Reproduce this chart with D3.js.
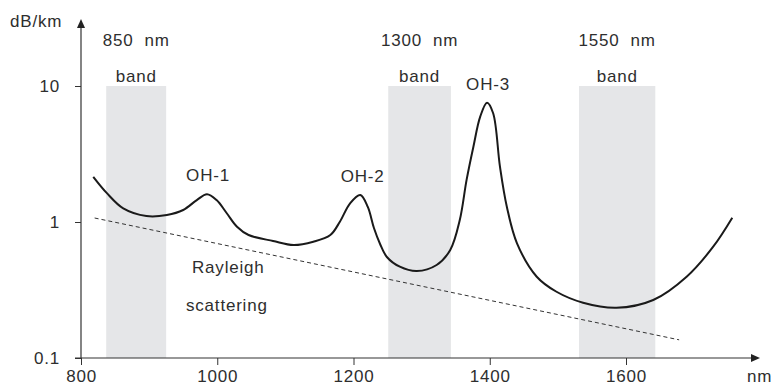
<!DOCTYPE html>
<html>
<head>
<meta charset="utf-8">
<script src="https://cdn.jsdelivr.net/npm/d3@7"></script>
<style>
  body { margin: 0; background: #fff; }
  text { font-family: "Liberation Sans", Arial, sans-serif; fill: #2e2e2e; }
</style>
</head>
<body>
<div id="chart"></div>
<script>
// データ------------------------------------------------------------------------------
const xTicks = [800, 1000, 1200, 1400, 1600];
const yTicks = [0.1, 1, 10];
const yTickLabels = ['0.1', '1', '10'];
// 透過帯域 [開始nm, 終了nm, 上段ラベル]
const bandNames = ['850  nm', '1300  nm', '1550  nm'];
const bandStart = [837, 1251, 1531];
const bandEnd = [925, 1343, 1643];
// 損失曲線 (nm, dB/km)
const lossNm = [818, 838, 862, 896, 926, 950, 970, 985, 999, 1014, 1029, 1046, 1082, 1112, 1141,
  1166, 1180, 1195, 1210, 1221, 1230, 1239, 1249, 1268, 1293, 1322, 1342, 1356, 1366, 1376, 1386,
  1396, 1405, 1415, 1425, 1440, 1469, 1498, 1537, 1586, 1640, 1689, 1728, 1756];
const lossDb = [2.15, 1.63, 1.26, 1.107, 1.126, 1.225, 1.45, 1.60, 1.45, 1.16, 0.923, 0.802, 0.725, 0.677, 0.716,
  0.802, 1.005, 1.373, 1.58, 1.29, 0.903, 0.689, 0.553, 0.469, 0.436, 0.483, 0.623, 1.034, 2.04, 3.58, 5.95,
  7.54, 6.3, 2.55, 1.30, 0.697, 0.396, 0.307, 0.255, 0.234, 0.267, 0.396, 0.658, 1.075];
// レイリー散乱 (破線)
const rayleighNm = [820, 1678];
const rayleighDb = [1.07, 0.136];
// ピークラベル
const peakNames = ['OH-1', 'OH-2', 'OH-3'];
const peakNm = [985, 1212, 1396];
const peakDb = [1.60, 1.58, 7.54];

// SVG領域------------------------------------------------------------------------------
const width = 774, height = 387;
const svg = d3.select('#chart').append('svg')
  .attr('width', width)
  .attr('height', height);

const xScale = d3.scaleLinear().domain([800, 1600]).range([81, 626]);
const yScale = d3.scaleLog().domain([0.1, 10]).range([358, 86]);
const fontSize = '17px', ls = '0.8px';

// 帯域----------------------------------------------------------------------------------
bandStart.forEach((s, i) => {
  const x0 = xScale(s), x1 = xScale(bandEnd[i]);
  svg.append('rect')
    .attr('x', x0).attr('y', yScale(10))
    .attr('width', x1 - x0).attr('height', yScale(0.1) - yScale(10))
    .attr('fill', '#e5e6e8');
  svg.append('text')
    .attr('x', (x0 + x1) / 2).attr('y', 46)
    .attr('text-anchor', 'middle')
    .attr('font-size', fontSize).attr('letter-spacing', ls)
    .style('white-space', 'pre')
    .text(bandNames[i]);
  svg.append('text')
    .attr('x', (x0 + x1) / 2).attr('y', 82)
    .attr('text-anchor', 'middle')
    .attr('font-size', fontSize).attr('letter-spacing', ls)
    .text('band');
});

// 軸---------------------------------------------------------------------------------------
const axisx = d3.axisBottom(xScale).tickValues(xTicks).tickSize(7).tickPadding(5)
  .tickFormat(d3.format('d'));
svg.append('g')
  .attr('transform', 'translate(0,' + yScale(0.1) + ')')
  .call(axisx);
const axisy = d3.axisLeft(yScale).tickValues(yTicks).tickSize(6).tickPadding(15)
  .tickFormat((d, i) => yTickLabels[i]);
svg.append('g')
  .attr('transform', 'translate(' + xScale(800) + ',0)')
  .call(axisy);
svg.selectAll('.domain').remove();
svg.selectAll('.tick line').attr('stroke', '#333').attr('stroke-width', 1);
svg.selectAll('.tick text')
  .attr('font-size', fontSize).attr('letter-spacing', ls)
  .attr('font-family', '"Liberation Sans", Arial, sans-serif')
  .attr('fill', '#2e2e2e');

// 軸線と矢印
const x0 = xScale(800), yB = yScale(0.1);
svg.append('line').attr('x1', x0 - 6).attr('x2', 751).attr('y1', yB).attr('y2', yB)
  .attr('stroke', '#333').attr('stroke-width', 1.2);
svg.append('path').attr('d', `M751,${yB - 4}L760,${yB}L751,${yB + 4}Z`).attr('fill', '#222');
svg.append('line').attr('x1', x0).attr('x2', x0).attr('y1', yB).attr('y2', 27)
  .attr('stroke', '#333').attr('stroke-width', 1.2);
svg.append('path').attr('d', `M${x0 - 4},28L${x0},19L${x0 + 4},28Z`).attr('fill', '#222');

svg.append('text').attr('x', 10).attr('y', 27)
  .attr('font-size', fontSize).attr('letter-spacing', ls).text('dB/km');
svg.append('text').attr('x', 747).attr('y', 382)
  .attr('font-size', fontSize).attr('letter-spacing', ls).text('nm');

// レイリー散乱------------------------------------------------------------------------
svg.append('path')
  .datum(rayleighNm.map((d, i) => [d, rayleighDb[i]]))
  .attr('d', d3.line().x(d => xScale(d[0])).y(d => yScale(d[1])))
  .attr('fill', 'none')
  .attr('stroke', '#333')
  .attr('stroke-width', 1)
  .attr('stroke-dasharray', '4,3');
svg.append('text').attr('x', 192).attr('y', 273)
  .attr('font-size', fontSize).attr('letter-spacing', ls).text('Rayleigh');
svg.append('text').attr('x', 186).attr('y', 311)
  .attr('font-size', fontSize).attr('letter-spacing', ls).text('scattering');

// 損失曲線----------------------------------------------------------------------------
svg.append('path')
  .datum(lossNm.map((d, i) => [d, lossDb[i]]))
  .attr('d', d3.line().curve(d3.curveCatmullRom.alpha(0.5)).x(d => xScale(d[0])).y(d => yScale(d[1])))
  .attr('fill', 'none')
  .attr('stroke', '#1a1a1a')
  .attr('stroke-width', 2);

// ピークラベル
peakNames.forEach((n, i) => {
  svg.append('text')
    .attr('x', xScale(peakNm[i]) + 1)
    .attr('y', yScale(peakDb[i]) - 13)
    .attr('text-anchor', 'middle')
    .attr('font-size', fontSize).attr('letter-spacing', ls)
    .text(n);
});
</script>
</body>
</html>
